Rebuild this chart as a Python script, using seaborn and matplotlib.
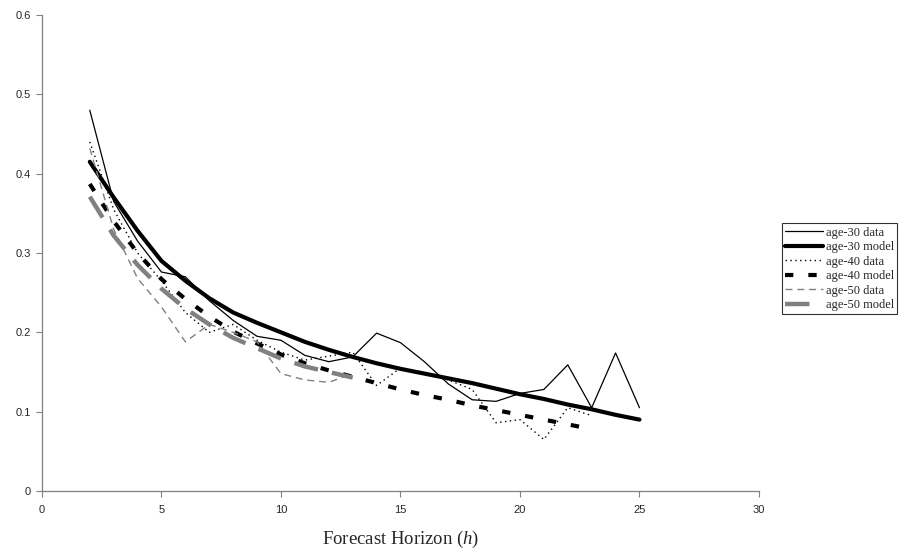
import numpy as np
import pandas as pd
import matplotlib
matplotlib.use("Agg")
import matplotlib.pyplot as plt
import seaborn as sns

# forecast horizons
h30 = list(range(2, 26))
h40 = list(range(2, 24))
h50 = list(range(2, 14))

# values
age30_data = [0.48, 0.365, 0.315, 0.276, 0.27, 0.24, 0.215, 0.195, 0.19, 0.171, 0.163, 0.169,
              0.199, 0.187, 0.163, 0.135, 0.115, 0.113, 0.123, 0.128, 0.159, 0.105, 0.174, 0.105]
age30_model = [0.415, 0.37, 0.328, 0.29, 0.265, 0.243, 0.225, 0.212, 0.2, 0.188, 0.178, 0.169,
               0.161, 0.154, 0.148, 0.142, 0.136, 0.129, 0.122, 0.116, 0.109, 0.103, 0.096, 0.09]
age40_data = [0.44, 0.355, 0.3, 0.265, 0.225, 0.2, 0.21, 0.19, 0.175, 0.165, 0.17, 0.175,
              0.133, 0.155, 0.148, 0.14, 0.128, 0.086, 0.09, 0.065, 0.105, 0.095]
age40_model = [0.387, 0.34, 0.3, 0.267, 0.242, 0.22, 0.201, 0.186, 0.172, 0.161, 0.152, 0.144,
               0.136, 0.128, 0.121, 0.115, 0.108, 0.102, 0.096, 0.09, 0.084, 0.078]
age50_data = [0.432, 0.33, 0.268, 0.232, 0.188, 0.21, 0.2, 0.188, 0.148, 0.14, 0.137, 0.148]
age50_model = [0.371, 0.322, 0.285, 0.255, 0.23, 0.21, 0.193, 0.18, 0.167, 0.157, 0.15, 0.143]

sns.set_style("white")
plt.rcParams["font.family"] = ["Liberation Sans", "DejaVu Sans"]
plt.rcParams["mathtext.fontset"] = "custom"
plt.rcParams["mathtext.it"] = "Liberation Serif:italic"
plt.rcParams["mathtext.rm"] = "Liberation Serif"

fig = plt.figure(figsize=(9.03, 5.6), dpi=100)
ax = fig.add_axes([0.0465, 0.1232, 0.794, 0.85])

series = [
    ("age-30 data", h30, age30_data, "black", 0.9, "-"),
    ("age-30 model", h30, age30_model, "black", 3.0, "-"),
    ("age-40 data", h40, age40_data, "black", 1.0, (0, (1, 2.5))),
    ("age-40 model", h40, age40_model, "black", 3.0, (0, (2, 3.6))),
    ("age-50 data", h50, age50_data, "#808080", 1.0, (0, (5, 3.5))),
    ("age-50 model", h50, age50_model, "#808080", 3.2, (0, (5.5, 3.2))),
]

for name, xs, ys, col, lw, ls in series:
    df = pd.DataFrame({"h": xs, "v": ys})
    sns.lineplot(data=df, x="h", y="v", ax=ax, color=col, linewidth=lw,
                 linestyle=ls, label=name)

ax.set_xlim(0, 30)
ax.set_ylim(0, 0.6)
ax.set_xticks(range(0, 31, 5))
ax.set_yticks([0, 0.1, 0.2, 0.3, 0.4, 0.5, 0.6])
ax.set_yticklabels(["0", "0.1", "0.2", "0.3", "0.4", "0.5", "0.6"])
ax.tick_params(axis="both", labelsize=8, length=4, width=0.8, color="#808080",
               direction="out", left=True, bottom=True)
ax.tick_params(axis="x", pad=6)
ax.tick_params(axis="y", pad=4)
for s in ["top", "right"]:
    ax.spines[s].set_visible(False)
for s in ["left", "bottom"]:
    ax.spines[s].set_color("#808080")
    ax.spines[s].set_linewidth(0.9)

ax.set_ylabel("")
ax.set_xlabel(r"Forecast Horizon ($\it{h}$)", fontsize=13.5, family="Liberation Serif",
              labelpad=10)

leg = ax.legend(loc="center left", bbox_to_anchor=(0.866, 0.52), bbox_transform=fig.transFigure,
                prop={"family": "Liberation Serif", "size": 9}, frameon=True,
                fancybox=False, edgecolor="black", handlelength=3.0, handletextpad=0.25,
                borderpad=0.25, labelspacing=0.2, borderaxespad=0)
leg.get_frame().set_linewidth(0.8)

fig.savefig("out.png", dpi=100)
